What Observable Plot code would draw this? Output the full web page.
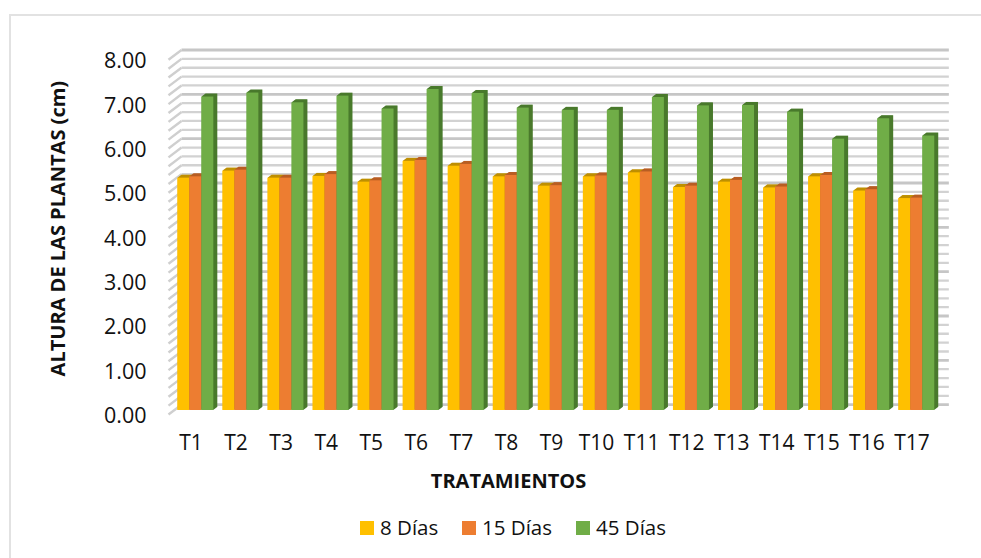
<!DOCTYPE html>
<html><head><meta charset="utf-8">
<script src="https://cdn.jsdelivr.net/npm/d3@7"></script>
<script src="https://cdn.jsdelivr.net/npm/@observablehq/plot@0.6"></script>
<style>
html,body{margin:0;padding:0;background:#fff}
body{width:981px;height:558px;position:relative;overflow:hidden;font-family:"Open Sans",sans-serif;color:#111}
#edge{position:absolute;left:9px;top:14px;right:-4px;bottom:-4px;border:2px solid #e2e2e2;box-sizing:border-box}
#chart{position:relative}
#chart svg{display:block;background:none}
#legend{position:absolute;left:0;top:513px;width:981px;height:28px;font-size:20.5px;line-height:28px}
#legend span{position:absolute;white-space:nowrap}
#legend i{display:inline-block;width:14px;height:14px;margin-right:6px;vertical-align:0}
</style></head><body>
<div id="edge"></div>
<div id="chart"></div>
<div id="legend"></div>
<script>
const treatments = ["T1","T2","T3","T4","T5","T6","T7","T8","T9","T10","T11","T12","T13","T14","T15","T16","T17"];
const dias8  = [5.24,5.40,5.24,5.28,5.15,5.62,5.51,5.27,5.06,5.27,5.36,5.03,5.15,5.02,5.27,4.95,4.78];
const dias15 = [5.27,5.42,5.24,5.32,5.18,5.64,5.55,5.30,5.07,5.29,5.38,5.06,5.19,5.04,5.30,4.98,4.79];
const dias45 = [7.07,7.16,6.94,7.09,6.80,7.24,7.15,6.82,6.77,6.77,7.06,6.87,6.88,6.73,6.12,6.58,6.19];
const seriesNames = ["8 Días","15 Días","45 Días"];
const frontColors = ["#ffc000","#ed7d31","#70ad47"];
const depthColors = ["#bf9000","#b95e24","#4a7a2d"];
const yTicks = [0,1,2,3,4,5,6,7,8];
const gridTicks = d3.range(0,41).map(d => d/5);

const seriesValues = [dias8,dias15,dias45];
const table = seriesNames.map((s,si)=>treatments.map((t,i)=>({s:si,i,v:seriesValues[si][i]})));

const wallX = 13/45.06, wallY = 9.8/44.3;
const barDx = 4.8, barDy = -4;
const barStart = 0.1, barW = 12/45.06;

const marks = [];
marks.push(Plot.link(gridTicks,{x1:0,x2:wallX,y1:d=>d,y2:d=>d+wallY,stroke:"#cfcfcf",strokeWidth:2.4}));
marks.push(Plot.link(gridTicks,{x1:wallX,x2:17+wallX+0.03,y1:d=>d+wallY,y2:d=>d+wallY,
  stroke:d=>Number.isInteger(d)?"#c6c6c6":"#d2d2d2",strokeWidth:d=>Number.isInteger(d)?2.8:2.3}));

table.forEach((rows,si)=>{
  const x1=d=>d.i+barStart+si*barW, x2=d=>d.i+barStart+(si+1)*barW;
  [4,3.5,3,2.5,2,1.5,1,0.5].forEach(k=>{
    marks.push(Plot.rectY(rows,{x1,x2,y:"v",fill:depthColors[si],dx:barDx+k,dy:barDy-k*0.75}));
  });
  marks.push(Plot.rectY(rows,{x1,x2,y:"v",fill:frontColors[si],dx:barDx,dy:barDy}));
});

const plot = Plot.plot({
  width:981,height:510,
  marginLeft:168,marginRight:47,marginTop:59.3,marginBottom:96,
  style:{fontFamily:'"Open Sans",sans-serif',color:"#111",background:"none",overflow:"visible"},
  x:{type:"linear",domain:[0,17]},
  y:{domain:[0,8]},
  marks:[
    ...marks,
    Plot.axisY({ticks:yTicks,tickFormat:d=>d.toFixed(2),tickSize:0,tickPadding:22,label:null,fontSize:21.5,fill:"#111",dy:1.5}),
    Plot.axisX({ticks:treatments.map((t,i)=>i+0.5),tickFormat:d=>treatments[d-0.5],tickSize:0,tickPadding:21,label:null,fontSize:21,fill:"#111"}),
    Plot.text(["ALTURA DE LAS PLANTAS (cm)"],{text:d=>d,frameAnchor:"left",textAnchor:"middle",rotate:-90,dx:-110,dy:-8.5,fontWeight:"bold",fontSize:20,fill:"#111"}),
    Plot.text(["TRATAMIENTOS"],{text:d=>d,frameAnchor:"bottom",dy:73,dx:-43,fontWeight:"bold",fontSize:20,fill:"#111"})
  ]
});
document.getElementById("chart").append(plot);

const lefts=[360,462,576];
const legend=document.getElementById("legend");
seriesNames.forEach((s,i)=>{
  const el=document.createElement("span");el.style.left=lefts[i]+"px";
  const sw=document.createElement("i");sw.style.background=frontColors[i];
  el.append(sw,document.createTextNode(s));legend.append(el);
});
</script>
</body></html>
